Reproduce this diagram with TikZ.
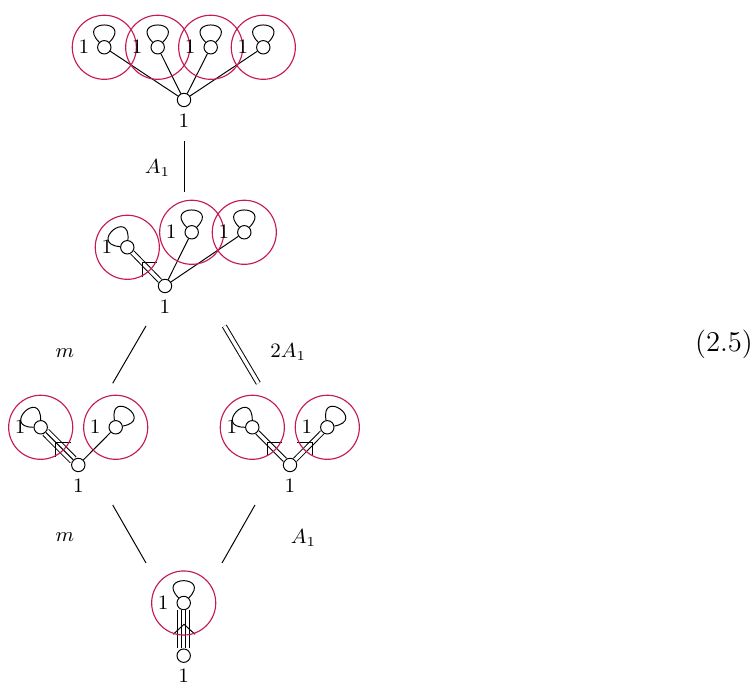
\documentclass[tikz,border=0pt]{standalone}
\usepackage{amsmath}
\usepackage{xcolor}
\usetikzlibrary{positioning}
\definecolor{fringered}{RGB}{197,26,88}
\tikzset{
  every loop/.style={},
  gauge/.style={circle,draw,inner sep=0pt,minimum size=5.9pt},
  fringe/.style={circle,draw=fringered,line width=0.5pt,inner sep=0pt,minimum size=28.2pt},
  lab/.style={font=\fontsize{9.2}{11}\selectfont},
  selfloop/.style={loop,distance=14.3pt},
  dbl/.style={double,double distance=1.5pt},
  tplo/.style={double,double distance=3.2pt},
  quado/.style={double,double distance=4.9pt}
}
\begin{document}
\begin{tikzpicture}[x=0.44pt,y=0.44pt,line width=0.43pt,node distance=9pt,on grid]
    \useasboundingbox (0,0) rectangle (756,686);
    % top row
    \node[gauge] (a1) at (104.3,638.7) {};
    \node[gauge] (a2) at (157.7,638.7) {};
    \node[gauge] (a3) at (210.7,638.7) {};
    \node[gauge] (a4) at (263.3,638.7) {};
    \node[gauge] (a0) at (184,586)     {};
    % second row
    \node[gauge] (b1) at (127.3,438.7) {};
    \node[gauge] (b2) at (191.7,453.7) {};
    \node[gauge] (b3) at (244.3,453.7) {};
    \node[gauge] (b0) at (165,400)     {};
    % third row, left
    \node[gauge] (c1) at (40.7,258.7)  {};
    \node[gauge] (c2) at (115.7,258.7) {};
    \node[gauge] (c0) at (78.3,221)    {};
    % third row, right
    \node[gauge] (d1) at (252.3,258.7) {};
    \node[gauge] (d2) at (327.3,258.7) {};
    \node[gauge] (d0) at (290,221)     {};
    % bottom
    \node[gauge] (e1) at (183.7,83)    {};
    \node[gauge] (e0) at (183.7,30.3)  {};
    % labels under the lower nodes
    \foreach \n in {a0,b0,c0,d0,e0}
      \node[lab,below=of \n] (l\n) {$1$};
    % edges
    \draw (a1) -- (a0);
    \draw (a2) -- (a0);
    \draw (a3) -- (a0);
    \draw (a4) -- (a0);
    \draw[dbl] (b1) -- (b0);
    \draw (b2) -- (b0);
    \draw (b3) -- (b0);
    \draw[tplo] (c1) -- (c0);
    \draw (c1) -- (c0);
    \draw (c2) -- (c0);
    \draw[dbl] (d1) -- (d0);
    \draw[dbl] (d2) -- (d0);
    \draw[quado] (e1) -- (e0);
    \draw[dbl] (e1) -- (e0);
    % marks on the multiple edges
    \coordinate (k1) at (142.3,423.3);
    \coordinate (k2) at (55.4,243.7);
    \coordinate (k3) at (267.3,243.7);
    \coordinate (k4) at (312.3,243.7);
    \coordinate (k5) at (184,61.7);
    \draw (k1) ++(14.5,0) -- (k1) -- ++(0,-14.5);
    \draw (k2) ++(15.5,0) -- (k2) -- ++(0,-14.5);
    \draw (k3) ++(15,0) -- (k3) -- ++(0,-14);
    \draw (k4) ++(-15,0) -- (k4) -- ++(0,-14);
    \draw (k5) ++(-10.7,-10) -- (k5) -- ++(11,-10);
    % loop, circle and label of each upper node
    \foreach \n/\a/\b in {a1/135/45,a2/135/45,a3/135/45,a4/135/45,
                          b1/175/85,b2/135/45,b3/135/45,
                          c1/180/90,c2/100/10,
                          d1/180/90,d2/100/10,
                          e1/135/45} {
      \path[draw] (\n) edge[out=\a,in=\b,selfloop] (\n);
      \node[fringe] (f\n) at (\n) {};
      \node[lab,left=of \n] (m\n) {$1$};
    }
    % arrows between the quivers
    \coordinate (p1) at (184.4,545);
    \coordinate (q1) at (184.4,494);
    \coordinate (p2) at (146,360);
    \coordinate (q2) at (112.7,302.7);
    \coordinate (p3) at (224.3,360);
    \coordinate (q3) at (258.3,302.7);
    \coordinate (p4) at (112.7,181);
    \coordinate (q4) at (146,123);
    \coordinate (p5) at (255,181);
    \coordinate (q5) at (222,123);
    \draw (p1) -- (q1);
    \draw (p2) -- (q2);
    \draw[dbl] (p3) -- (q3);
    \draw (p4) -- (q4);
    \draw (p5) -- (q5);
    \node[lab] (t1) at (157.5,518) {$A_1$};
    \node[lab] (t2) at (65,333)    {$m$};
    \node[lab] (t3) at (288.3,334) {$2A_1$};
    \node[lab] (t4) at (65,148.5)  {$m$};
    \node[lab] (t5) at (303.5,148) {$A_1$};
    \node[font=\fontsize{12.6}{15}\selectfont] (eqn) at (724,341.5) {(2.5)};
\end{tikzpicture}
\end{document}
